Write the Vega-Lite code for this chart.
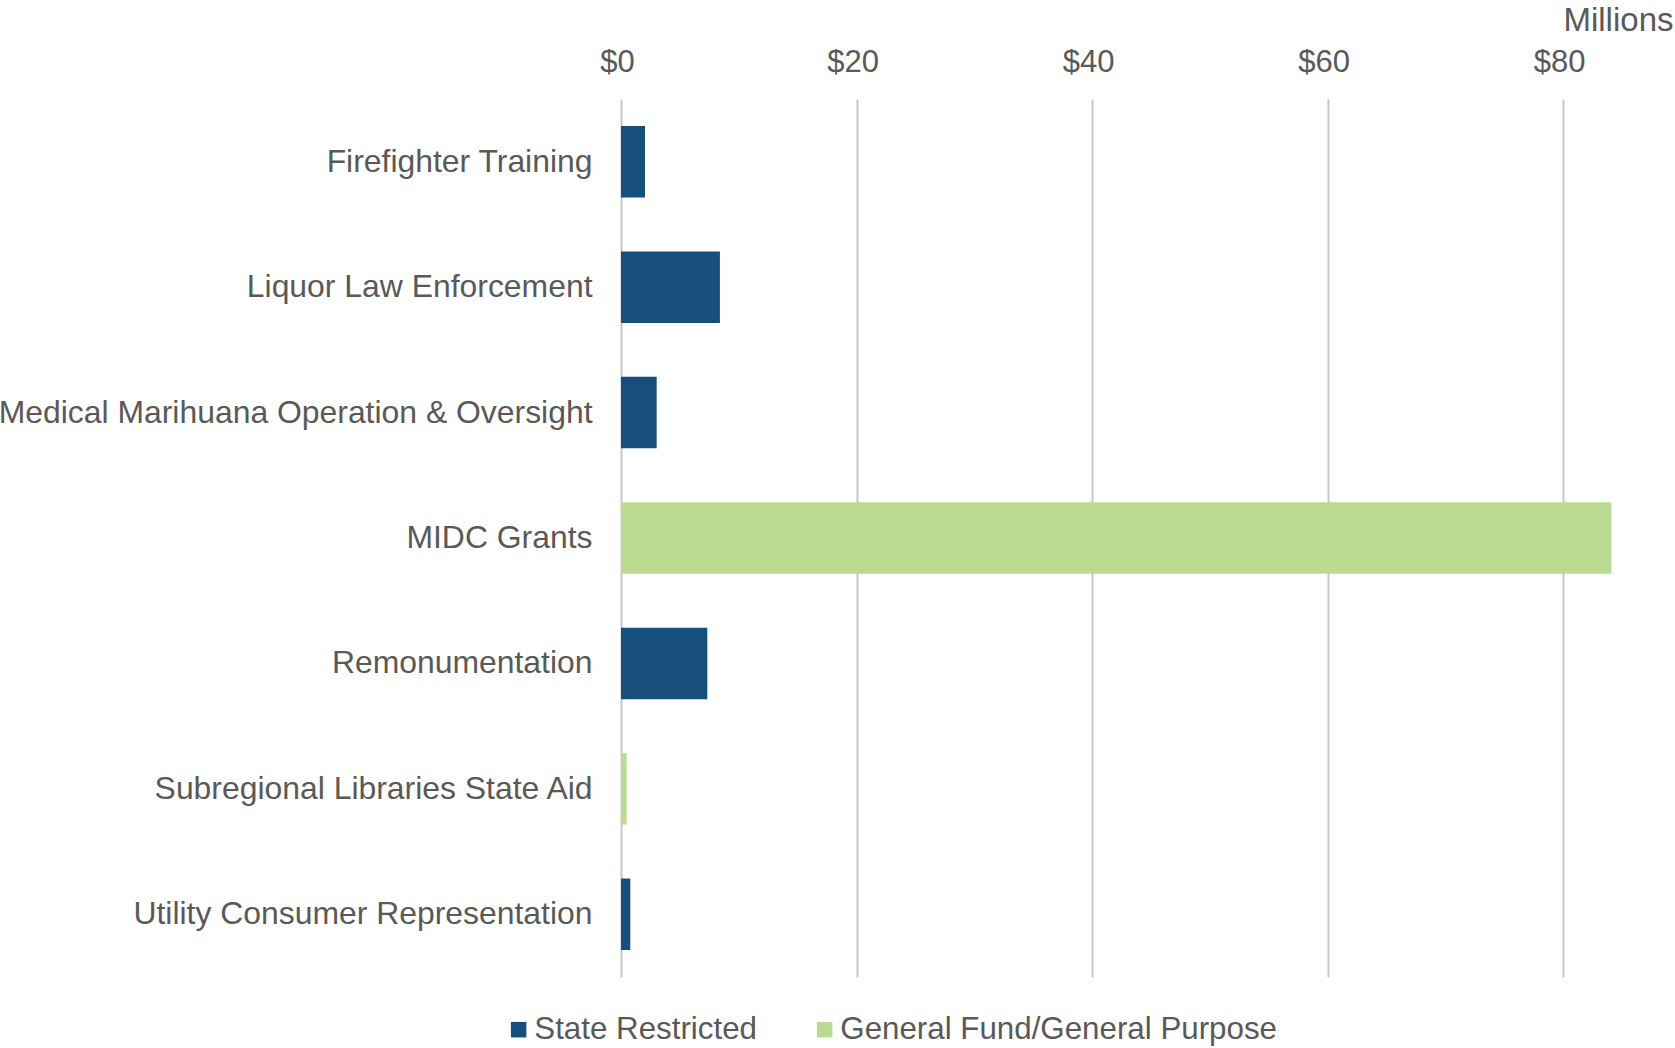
{
  "$schema": "https://vega.github.io/schema/vega-lite/v6.json",
  "width": 1001,
  "height": 878,
  "autosize": {"type": "none"},
  "padding": {"left": 621, "top": 99, "right": 53, "bottom": 71},
  "background": "white",
  "config": {"view": {"stroke": null}, "font": "Liberation Sans"},
  "data": {
    "values": [
      {"program": "Firefighter Training", "amount": 2.04, "fund": "State Restricted"},
      {"program": "Liquor Law Enforcement", "amount": 8.4, "fund": "State Restricted"},
      {"program": "Medical Marihuana Operation & Oversight", "amount": 3.03, "fund": "State Restricted"},
      {"program": "MIDC Grants", "amount": 84.1, "fund": "General Fund/General Purpose"},
      {"program": "Remonumentation", "amount": 7.33, "fund": "State Restricted"},
      {"program": "Subregional Libraries State Aid", "amount": 0.48, "fund": "General Fund/General Purpose"},
      {"program": "Utility Consumer Representation", "amount": 0.79, "fund": "State Restricted"}
    ]
  },
  "mark": {"type": "bar"},
  "encoding": {
    "y": {
      "field": "program",
      "type": "nominal",
      "sort": null,
      "scale": {"paddingInner": 0.43, "paddingOuter": 0.215},
      "axis": {
        "title": null,
        "domain": false,
        "ticks": false,
        "labelFontSize": 31.9,
        "labelColor": "#595959",
        "labelPadding": 29,
        "labelLimit": 800,
        "labelFont": "Liberation Sans"
      }
    },
    "x": {
      "field": "amount",
      "type": "quantitative",
      "scale": {"domain": [0, 85], "nice": false},
      "axis": {
        "orient": "top",
        "values": [0, 20, 40, 60, 80],
        "format": "$,.0f",
        "labelFontSize": 31,
        "labelColor": "#595959",
        "labelOffset": -4,
        "labelFlush": false,
        "labelOverlap": false,
        "domain": false,
        "ticks": false,
        "labelPadding": 21,
        "gridColor": "#c8c8c8",
        "gridWidth": 2,
        "title": "Millions",
        "titleX": 1052,
        "titleY": -69,
        "titleAlign": "right",
        "titleBaseline": "alphabetic",
        "titleFontSize": 33,
        "titleFontWeight": "normal",
        "titleColor": "#595959"
      }
    },
    "color": {
      "field": "fund",
      "type": "nominal",
      "scale": {"domain": ["State Restricted", "General Fund/General Purpose"], "range": ["#16507a", "#bcdb92"]},
      "legend": {
        "title": null,
        "orient": "none",
        "legendX": -118,
        "legendY": 915,
        "direction": "horizontal",
        "symbolType": "square",
        "symbolSize": 240,
        "symbolStrokeWidth": 0,
        "labelFontSize": 31.3,
        "labelColor": "#595959",
        "columnPadding": 52,
        "labelOffset": 0,
        "labelLimit": 800
      }
    }
  }
}
